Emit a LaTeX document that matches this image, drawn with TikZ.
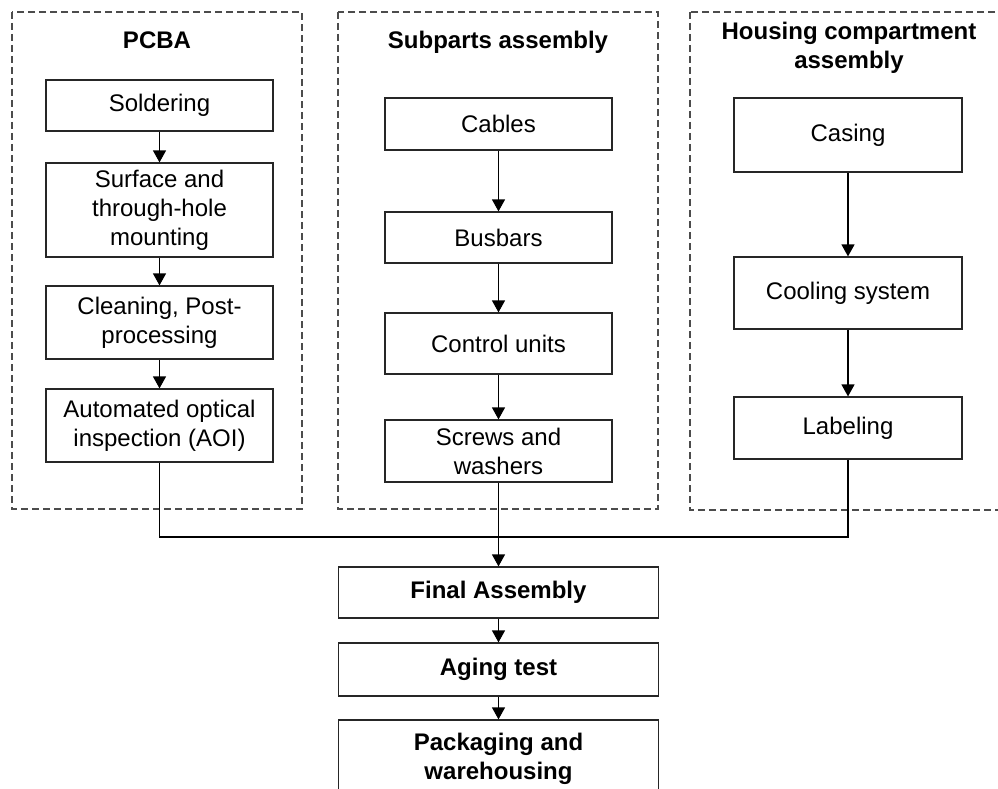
\documentclass[tikz,border=0pt]{standalone}
\usepackage{fontspec}
\setmainfont{Liberation Sans}
\usetikzlibrary{arrows.meta}
\begin{document}
\begin{tikzpicture}[x=1pt,y=-1pt,
  box/.style={draw=black!85, line width=1.2pt, inner sep=0pt, align=center,
    font=\fontsize{24}{29}\selectfont},
  title/.style={inner sep=0pt, align=center, font=\fontsize{24}{29}\selectfont\bfseries},
  group/.style={draw=black!70, line width=1.1pt, dash pattern=on 7pt off 4pt},
  arr/.style={draw=black, line width=1.2pt, -{Triangle[width=13pt,length=12pt]}},
  conn/.style={draw=black, line width=1.2pt}]
\clip (0,0) rectangle (998,789);
\fill[white] (0,0) rectangle (998,789);
% groups
\draw[group] (12,12) rectangle (302,509);
\draw[group] (338,12) rectangle (658,509);
\draw[group] (690,12) rectangle (1010,510);
\node[title] (tpcba) at (157,40) {PCBA};
\node[title] (tsub) at (498,42) {Subparts assembly};
\node[title] (thous) at (849,48) {Housing compartment\\assembly};
% PCBA
\node[box, minimum width=227pt, minimum height=51pt] (sold) at (159.5,105.5) {Soldering};
\node[box, minimum width=227pt, minimum height=94pt] (surf) at (159.5,210) {Surface and\\through-hole\\mounting};
\node[box, minimum width=227pt, minimum height=73pt] (clean) at (159.5,322.5) {Cleaning, Post-\\processing};
\node[box, minimum width=227pt, minimum height=73pt] (aoi) at (159.5,425.5) {Automated optical\\inspection (AOI)};
% Subparts
\node[box, minimum width=227pt, minimum height=52pt] (cab) at (498.5,124) {Cables};
\node[box, minimum width=227pt, minimum height=51pt] (bus) at (498.5,237.5) {Busbars};
\node[box, minimum width=227pt, minimum height=61pt] (ctrl) at (498.5,343.5) {Control units};
\node[box, minimum width=227pt, minimum height=62pt] (scr) at (498.5,451) {Screws and\\washers};
% Housing
\node[box, minimum width=228pt, minimum height=74pt] (cas) at (848,135) {Casing};
\node[box, minimum width=228pt, minimum height=72pt] (cool) at (848,293) {Cooling system};
\node[box, minimum width=228pt, minimum height=62pt] (lab) at (848,428) {Labeling};
% Final chain
\node[box, minimum width=320pt, minimum height=51pt, font=\fontsize{24}{29}\selectfont\bfseries] (fin) at (498.5,592.5) {Final Assembly};
\node[box, minimum width=320pt, minimum height=53pt, font=\fontsize{24}{29}\selectfont\bfseries] (age) at (498.5,669.5) {Aging test};
\node[box, minimum width=320pt, minimum height=78pt, font=\fontsize{24}{29}\selectfont\bfseries] (pack) at (498.5,759) {Packaging and\\warehousing};
% arrows
\draw[arr] (sold) -- (surf);
\draw[arr] (surf) -- (clean);
\draw[arr] (clean) -- (aoi);
\draw[arr] (cab) -- (bus);
\draw[arr] (bus) -- (ctrl);
\draw[arr] (ctrl) -- (scr);
\draw[arr] (cas) -- (cool);
\draw[arr] (cool) -- (lab);
\coordinate (m) at (498.5,537);
\draw[conn] (aoi.south) |- (m);
\draw[conn] (lab.south) |- (m);
\draw[arr] (scr) -- (fin);
\draw[arr] (fin) -- (age);
\draw[arr] (age) -- (pack);
\end{tikzpicture}
\end{document}
